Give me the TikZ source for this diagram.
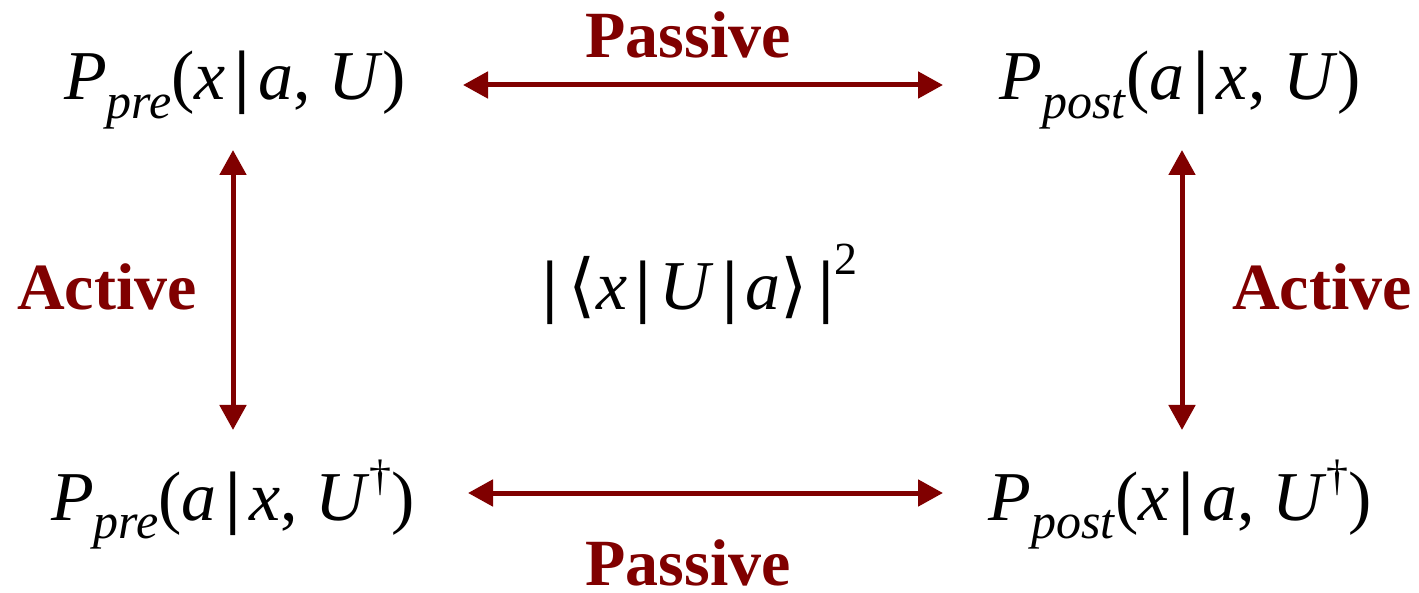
\documentclass[tikz,border=0pt]{standalone}
\usepackage{fontspec}
\setmainfont{Liberation Serif}[ItalicFont={Liberation Serif Italic},BoldFont={Liberation Serif Bold}]
\newfontfamily\symfont{DejaVu Serif}
\usetikzlibrary{arrows.meta}
\definecolor{dred}{RGB}{128,0,0}
\newcommand\mi[1]{\textit{#1}}
\newcommand\sbx[1]{\raisebox{-0.26em}{\fontsize{50}{50}\selectfont\textit{#1}}}
\newcommand\dgr{\raisebox{0.42em}{\fontsize{44}{44}\selectfont \dag}}
\newcommand\vb{\hspace{0.12em}{\bfseries |}\hspace{0.12em}}
\newcommand\lang{{\symfont\char"27E8}}
\newcommand\rang{{\symfont\char"27E9}}
\begin{document}
\begin{tikzpicture}[x=1pt,y=-1pt,
  expr/.style={anchor=base,inner sep=0pt,font=\fontsize{70}{78}\selectfont},
  lab/.style={anchor=base,inner sep=0pt,text depth=0pt,text=dred,font=\fontsize{66}{74}\selectfont\bfseries},
  arr/.style={draw=dred,line width=5pt,{Triangle[length=25pt,width=26pt]}-{Triangle[length=25pt,width=26pt]}}]
\useasboundingbox (0,0) rectangle (1419,593);
\node[expr] (tl) at (235,100) {\mi{P}\sbx{pre}(\mi{x}\vb\mi{a}, \mi{U})};
\node[expr] (tr) at (1180,100) {\mi{P}\sbx{post}(\mi{a}\vb\mi{x}, \mi{U})};
\node[expr] (bl) at (233,520) {\mi{P}\sbx{pre}(\mi{a}\vb\mi{x}, \mi{U}\dgr)};
\node[expr] (br) at (1180,520) {\mi{P}\sbx{post}(\mi{x}\vb\mi{a}, \mi{U}\dgr)};
\node[expr] (c) at (700,310) {{\bfseries |}\hspace{0.15em}\lang\mi{x}\vb\mi{U}\vb\mi{a}\rang\hspace{0.15em}{\bfseries |}\raisebox{0.5em}{\fontsize{46}{46}\selectfont 2}};
\node[lab] (pt) at (688,58) {Passive};
\node[lab] (pb) at (688,585) {Passive};
\node[lab] (al) at (107,310) {Active};
\node[lab] (ar) at (1322,310) {Active};
\coordinate (t1) at (463,85); \coordinate (t2) at (943,85);
\coordinate (b1) at (468,493); \coordinate (b2) at (943,493);
\coordinate (l1) at (233,150); \coordinate (l2) at (233,430);
\coordinate (r1) at (1182,150); \coordinate (r2) at (1182,430);
\draw[arr] (t1) -- (t2);
\draw[arr] (b1) -- (b2);
\draw[arr] (l1) -- (l2);
\draw[arr] (r1) -- (r2);
\end{tikzpicture}
\end{document}
